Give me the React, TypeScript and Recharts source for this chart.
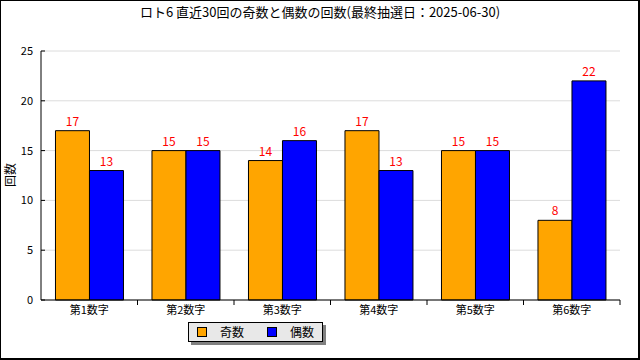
import React from 'react';
import { BarChart, Bar, XAxis, YAxis, CartesianGrid, LabelList } from 'recharts';

const categories = ['第1数字', '第2数字', '第3数字', '第4数字', '第5数字', '第6数字'];
const oddCounts = [17, 15, 14, 17, 15, 8];
const evenCounts = [13, 15, 16, 13, 15, 22];
const yTicks = [0, 5, 10, 15, 20, 25];
const seriesNames = ['奇数', '偶数'];
const seriesColors = ['#FFA500', '#0000FF'];
const titleText = 'ロト6 直近30回の奇数と偶数の回数(最終抽選日：2025-06-30)';
const yLabel = '回数';

const data = categories.map((c, i) => ({ name: c, odd: oddCounts[i], even: evenCounts[i] }));

const FONT = '"Noto Sans CJK JP", "DejaVu Sans", sans-serif';

const YTick = (props: any) => {
  const { x, y, payload } = props;
  return (
    <g>
      <line x1={x + 8} x2={x + 12} y1={y} y2={y} stroke="#000" strokeWidth={1} />
      <text x={x} y={y} dy="0.355em" textAnchor="end" fontSize={11} fill="#000" fontFamily={FONT}>
        {payload.value}
      </text>
    </g>
  );
};

const XTick = (props: any) => {
  const { x, y, payload, width } = props;
  const half = (width ? width : 579) / categories.length / 2;
  return (
    <g>
      <line x1={x + half} x2={x + half} y1={y - 6} y2={y - 1} stroke="#000" strokeWidth={1} />
      <text x={x} y={y} dy="0.71em" textAnchor="middle" fontSize={11} fill="#000" fontFamily={FONT}>
        {payload.value}
      </text>
    </g>
  );
};

const YLabel = (props: any) => {
  const vb = props.viewBox || {};
  const cx = (vb.x ?? 5) + 4;
  const cy = 175;
  return (
    <text x={cx} y={cy} textAnchor="middle" dominantBaseline="central" fontSize={12} fill="#000" fontFamily={FONT}
      transform={`rotate(-90, ${cx}, ${cy})`}>
      {yLabel}
    </text>
  );
};

export default function App() {
  return (
    <div style={{ position: 'fixed', left: 0, top: 0, width: 640, height: 360, background: '#fff', overflow: 'hidden' }}>
      <div style={{ position: 'absolute', left: 0, top: 0, width: 640, height: 24, lineHeight: '24px', textAlign: 'center', fontSize: 13, fontFamily: FONT, color: '#000', paddingLeft: 0 }}>
        {titleText}
      </div>
      <div style={{ position: 'absolute', left: 0, top: 0 }}>
        <BarChart width={640} height={360} data={data} margin={{ top: 51, right: 20, left: 5, bottom: 0 }}
          barCategoryGap="15%" barGap={0}>
          <CartesianGrid horizontal vertical={false} stroke="#dcdcdc" />
          <XAxis dataKey="name" height={60} tickSize={0} tickMargin={6} axisLine={{ stroke: '#000' }} tickLine={false} tick={<XTick />} interval={0} />
          <YAxis width={36} domain={[0, 25]} ticks={yTicks} tickSize={0} tickMargin={8} axisLine={{ stroke: '#000' }} tickLine={false} tick={<YTick />} label={<YLabel />} />
          <Bar dataKey="odd" name={seriesNames[0]} fill={seriesColors[0]} stroke="#000" strokeWidth={1} isAnimationActive={false}>
            <LabelList dataKey="odd" position="top" offset={5} fill="#ff0000" fontSize={12} fontFamily={FONT} />
          </Bar>
          <Bar dataKey="even" name={seriesNames[1]} fill={seriesColors[1]} stroke="#000" strokeWidth={1} isAnimationActive={false}>
            <LabelList dataKey="even" position="top" offset={5} fill="#ff0000" fontSize={12} fontFamily={FONT} />
          </Bar>
        </BarChart>
      </div>
      <div style={{ position: 'absolute', left: 191, top: 325, width: 135, height: 20, background: '#808080' }} />
      <div style={{ position: 'absolute', left: 188, top: 322, width: 135, height: 20, boxSizing: 'border-box', border: '1px solid #000', background: '#e8e8e8', display: 'flex', alignItems: 'center', fontFamily: FONT, fontSize: 12, color: '#000' }}>
        {seriesNames.map((n, i) => (
          <div key={n} style={{ display: 'flex', alignItems: 'center', marginLeft: i === 0 ? 8 : 23 }}>
            <div style={{ width: 10, height: 10, boxSizing: 'border-box', border: '1px solid #000', background: seriesColors[i] }} />
            <span style={{ marginLeft: 13, lineHeight: '12px' }}>{n}</span>
          </div>
        ))}
      </div>
      <div style={{ position: 'absolute', left: 0, top: 0, width: 640, height: 360, boxSizing: 'border-box', borderLeft: '1px solid #000', borderTop: '1px solid #000', borderRight: '2px solid #000', borderBottom: '2px solid #000', pointerEvents: 'none' }} />
    </div>
  );
}
